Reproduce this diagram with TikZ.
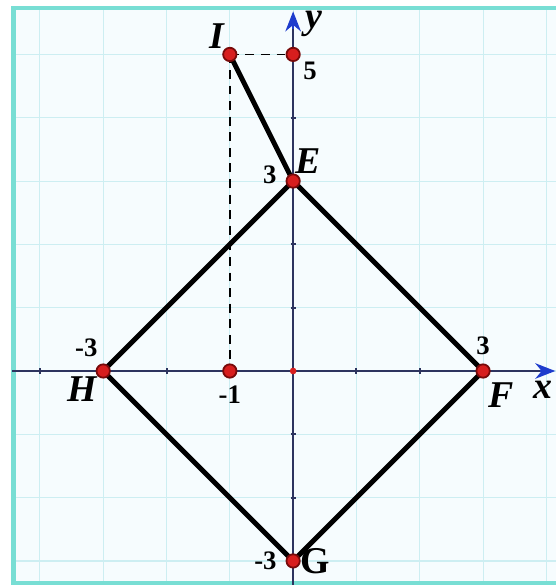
\documentclass[tikz,border=0pt]{standalone}
\usepackage{fontspec}
\setmainfont{Liberation Serif}
\usetikzlibrary{arrows.meta,positioning,calc}
\definecolor{gridcyan}{RGB}{205,238,242}
\definecolor{paperbg}{RGB}{246,252,254}
\definecolor{framecyan}{RGB}{120,222,212}
\definecolor{axisnavy}{RGB}{45,52,95}
\definecolor{axisblue}{RGB}{30,60,205}
\definecolor{ptred}{RGB}{215,30,30}
\definecolor{ptdark}{RGB}{120,10,10}

\begin{document}
\begin{tikzpicture}[
    axis/.style={axisnavy, line width=0.9pt},
    edge/.style={black, line width=2.2pt},
    guide/.style={black, dashed, line width=0.8pt, dash pattern=on 4pt off 3pt},
    dot/.style={circle, fill=ptred, draw=ptdark, line width=0.8pt, inner sep=0pt, minimum size=6pt},
    lbl/.style={font=\bfseries\itshape\fontsize{17}{17}\selectfont, inner sep=1pt},
    num/.style={font=\bfseries\fontsize{12}{12}\selectfont, inner sep=1pt}
]
\useasboundingbox (-4.63,-3.38) rectangle (4.14,5.86);
% paper and grid
\fill[paperbg] (-4.42,-3.35) rectangle (4.4,5.73);
\draw[gridcyan, line width=0.5pt] (-4.42,-3.35) grid[step=1] (4.4,5.73);
\draw[framecyan, line width=2pt] (-4.42,-3.35) rectangle (4.4,5.73);

% axes
\draw[axis] (-4.44,0) -- (4.0,0);
\draw[axis] (0,-3.38) -- (0,5.5);
\draw[axisblue, -{Stealth[length=9pt, width=7pt]}, line width=0.9pt] (3.9,0) -- (4.14,0);
\draw[axisblue, -{Stealth[length=9pt, width=7pt]}, line width=0.9pt] (0,5.4) -- (0,5.68);
\foreach \t in {-4,-3,-2,-1,1,2,3} {
  \draw[axis] (\t,-0.04) -- (\t,0.04);
}
\foreach \t in {-2,-1,1,2,4} {
  \draw[axis] (-0.04,\t) -- (0.04,\t);
}
\node[font=\bfseries\itshape\fontsize{17}{17}\selectfont, anchor=east, inner sep=1pt] (xlab) at (4.13,-0.3) {x};
\node[font=\bfseries\itshape\fontsize{17}{17}\selectfont] (ylab) at (0.32,5.48) {y};

% points
\coordinate (I) at (-1,5);
\coordinate (Y5) at (0,5);
\coordinate (E) at (0,3);
\coordinate (F) at (3,0);
\coordinate (G) at (0,-3);
\coordinate (H) at (-3,0);
\coordinate (X1) at (-1,0);
\coordinate (O) at (0,0);

% dashed guides
\draw[guide] (I) -- (Y5);
\draw[guide] (I) -- (X1);

% figure
\draw[edge] (I) -- (E);
\draw[edge, line join=miter] (E) -- (F) -- (G) -- (H) -- cycle;

\foreach \p in {I,Y5,E,F,G,H,X1} {
  \node[dot] at (\p) {};
}
\fill[ptred] (O) circle (1.5pt);

% labels
\node[lbl, above left=0.05cm and 0.05cm of I] (Ilab) {I};
\node[num, below right=0.08cm and 0.12cm of Y5] (n5) {5};
\node[lbl, above right=0.08cm and 0.0cm of E] (Elab) {E};
\node[num, left=0.22cm of E, yshift=0.1cm] (n3y) {3};
\node[num, above left=0.18cm and 0.05cm of H] (nm3x) {-3};
\node[lbl, below left=0.05cm and 0.05cm of H] (Hlab) {H};
\node[num, below=0.2cm of X1] (nm1) {-1};
\node[num, above=0.22cm of F] (n3x) {3};
\node[lbl, below right=0.15cm and 0.05cm of F] (Flab) {F};
\node[num, left=0.22cm of G] (nm3y) {-3};
\node[font=\bfseries\fontsize{17}{17}\selectfont, inner sep=1pt, right=0.08cm of G] (Glab) {G};
\end{tikzpicture}
\end{document}
